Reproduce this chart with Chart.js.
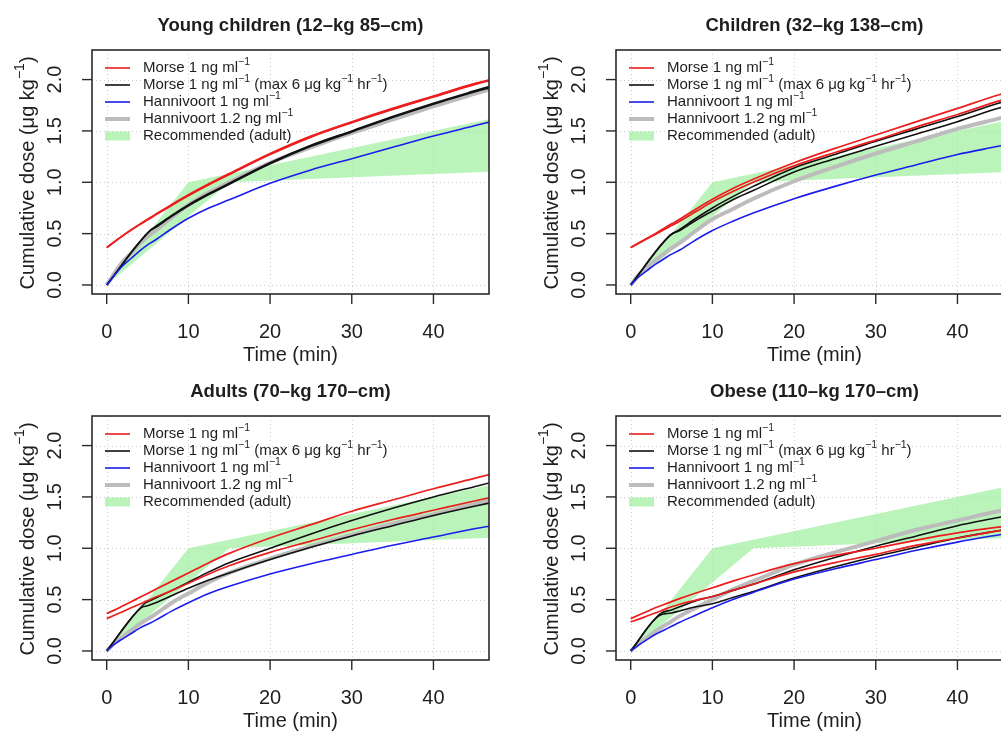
<!DOCTYPE html>
<html>
<head>
<meta charset="utf-8">
<script src="https://cdn.jsdelivr.net/npm/chart.js@4.4.1/dist/chart.umd.min.js"></script>
<style>
  html, body { margin: 0; padding: 0; background: #fff; overflow: hidden; }
  #wrap { position: relative; width: 1001px; height: 731px; overflow: hidden; }
  #wrap canvas { position: absolute; }
</style>
</head>
<body>
<div id="wrap">
  <canvas id="young" width="524" height="366" style="left:0;top:0"></canvas>
  <canvas id="child" width="524" height="366" style="left:524px;top:0"></canvas>
  <canvas id="adult" width="524" height="366" style="left:0;top:366px"></canvas>
  <canvas id="obese" width="524" height="366" style="left:524px;top:366px"></canvas>
</div>
<script>
// shared axes
const timeGrid = [0, 1, 2, 3, 4, 5, 6, 8, 10, 12.5, 15, 20, 25, 30, 35, 40, 45, 48];
const xTicks = [0, 10, 20, 30, 40];
const yTicks = [0, 0.5, 1, 1.5, 2];
const yTickLabels = ['0.0', '0.5', '1.0', '1.5', '2.0'];

// recommended adult dosing band
const bandTime = [0, 10, 15, 48];
const bandUpper = [0, 1.0, 1.083, 1.633];
const bandLower = [0, 0.667, 1.0, 1.106];

// Young children (12 kg 85 cm)
const youngMorseA = [0.364, 0.425, 0.483, 0.538, 0.59, 0.64, 0.69, 0.785, 0.878, 0.985, 1.085, 1.28, 1.45, 1.59, 1.72, 1.84, 1.96, 2.02];
const youngMorseB = [0.364, 0.423, 0.48, 0.534, 0.585, 0.634, 0.683, 0.777, 0.868, 0.975, 1.075, 1.27, 1.44, 1.58, 1.71, 1.83, 1.95, 2.01];
const youngCappedTimeA = [0, 5.3, 6, 8, 10, 12.5, 15, 20, 25, 30, 35, 40, 45, 48];
const youngCappedA = [0, 0.53, 0.57, 0.68, 0.78, 0.89, 0.99, 1.19, 1.36, 1.50, 1.64, 1.77, 1.89, 1.96];
const youngCappedTimeB = [0, 5.2, 6, 8, 10, 12.5, 15, 20, 25, 30, 35, 40, 45, 48];
const youngCappedB = [0, 0.52, 0.56, 0.67, 0.77, 0.88, 0.98, 1.18, 1.35, 1.49, 1.63, 1.76, 1.88, 1.94];
const youngHann1 = [0, 0.10, 0.19, 0.26, 0.33, 0.39, 0.44, 0.55, 0.65, 0.75, 0.83, 0.99, 1.12, 1.23, 1.34, 1.45, 1.55, 1.61];
const youngHann12 = [0, 0.12, 0.23, 0.31, 0.40, 0.47, 0.53, 0.66, 0.78, 0.90, 1.00, 1.19, 1.34, 1.48, 1.61, 1.74, 1.86, 1.93];

// Children (32 kg 138 cm)
const childMorseA = [0.364, 0.41, 0.455, 0.50, 0.548, 0.595, 0.64, 0.74, 0.835, 0.94, 1.03, 1.19, 1.33, 1.46, 1.59, 1.72, 1.85, 1.92];
const childMorseB = [0.364, 0.407, 0.45, 0.492, 0.535, 0.578, 0.62, 0.715, 0.81, 0.91, 1.00, 1.16, 1.29, 1.41, 1.54, 1.66, 1.79, 1.86];
const childCappedTimeA = [0, 4.8, 6, 8, 10, 12.5, 15, 20, 25, 30, 35, 40, 45, 48];
const childCappedA = [0, 0.48, 0.54, 0.65, 0.75, 0.86, 0.96, 1.14, 1.27, 1.40, 1.52, 1.64, 1.77, 1.84];
const childCappedTimeB = [0, 4.9, 6, 8, 10, 12.5, 15, 20, 25, 30, 35, 40, 45, 48];
const childCappedB = [0, 0.49, 0.53, 0.63, 0.72, 0.83, 0.92, 1.10, 1.23, 1.35, 1.47, 1.59, 1.72, 1.78];
const childHann1 = [0, 0.08, 0.14, 0.20, 0.25, 0.30, 0.34, 0.44, 0.53, 0.62, 0.70, 0.84, 0.96, 1.07, 1.17, 1.27, 1.35, 1.40];
const childHann12 = [0, 0.10, 0.17, 0.24, 0.30, 0.36, 0.41, 0.53, 0.64, 0.74, 0.84, 1.01, 1.15, 1.28, 1.40, 1.52, 1.62, 1.68];

// Adults (70 kg 170 cm)
const adultMorseA = [0.364, 0.40, 0.44, 0.48, 0.52, 0.56, 0.60, 0.68, 0.76, 0.86, 0.95, 1.10, 1.23, 1.36, 1.47, 1.58, 1.68, 1.74];
const adultMorseB = [0.315, 0.35, 0.385, 0.42, 0.455, 0.49, 0.525, 0.59, 0.66, 0.75, 0.83, 0.96, 1.07, 1.18, 1.28, 1.37, 1.46, 1.51];
const adultCappedTimeA = [0, 4.6, 5, 6, 8, 10, 12.5, 15, 20, 25, 30, 35, 40, 45, 48];
const adultCappedA = [0, 0.46, 0.48, 0.515, 0.59, 0.67, 0.77, 0.86, 1.00, 1.14, 1.27, 1.39, 1.50, 1.60, 1.66];
const adultCappedTimeB = [0, 4.2, 5, 6, 8, 10, 12.5, 15, 20, 25, 30, 35, 40, 45, 48];
const adultCappedB = [0, 0.42, 0.44, 0.47, 0.54, 0.61, 0.69, 0.76, 0.89, 1.01, 1.12, 1.22, 1.32, 1.41, 1.46];
const adultHann1 = [0, 0.07, 0.12, 0.17, 0.22, 0.26, 0.30, 0.39, 0.47, 0.56, 0.63, 0.75, 0.85, 0.94, 1.03, 1.11, 1.19, 1.23];
const adultHann12 = [0, 0.08, 0.14, 0.20, 0.26, 0.31, 0.36, 0.47, 0.56, 0.67, 0.76, 0.90, 1.02, 1.13, 1.24, 1.33, 1.43, 1.48];

// Obese (110 kg 170 cm)
const obeseMorseA = [0.315, 0.35, 0.385, 0.42, 0.45, 0.48, 0.51, 0.565, 0.615, 0.68, 0.74, 0.85, 0.93, 1.00, 1.08, 1.15, 1.205, 1.23];
const obeseMorseB = [0.283, 0.31, 0.34, 0.37, 0.40, 0.43, 0.455, 0.495, 0.53, 0.59, 0.65, 0.77, 0.86, 0.94, 1.03, 1.10, 1.17, 1.20];
const obeseCappedTimeA = [0, 3.6, 5, 6, 8, 10, 12.5, 15, 20, 25, 30, 35, 40, 45, 48];
const obeseCappedA = [0, 0.36, 0.40, 0.43, 0.49, 0.53, 0.59, 0.65, 0.79, 0.91, 1.02, 1.12, 1.22, 1.30, 1.35];
const obeseCappedTimeB = [0, 3.4, 5, 6, 8, 10, 12.5, 15, 20, 25, 30, 35, 40, 45, 48];
const obeseCappedB = [0, 0.34, 0.37, 0.39, 0.43, 0.46, 0.52, 0.58, 0.71, 0.82, 0.92, 1.01, 1.10, 1.17, 1.21];
const obeseHann1 = [0, 0.06, 0.11, 0.16, 0.20, 0.24, 0.28, 0.35, 0.42, 0.50, 0.57, 0.70, 0.80, 0.89, 0.98, 1.06, 1.13, 1.17];
const obeseHann12 = [0, 0.07, 0.13, 0.19, 0.24, 0.29, 0.34, 0.42, 0.50, 0.60, 0.68, 0.84, 0.96, 1.07, 1.18, 1.27, 1.36, 1.40];

const legendLabels = [
    'Morse 1 ng ml^{−1}',
    'Morse 1 ng ml^{−1} (max 6 μg kg^{−1} hr^{−1})',
    'Hannivoort 1 ng ml^{−1}',
    'Hannivoort 1.2 ng ml^{−1}',
    'Recommended (adult)'
];
const xLabel = 'Time (min)';
const yLabel = 'Cumulative dose (μg kg^{−1})';

const RED = '#ec1d1d';
const BLACK = '#111111';
const BLUE = '#1c1ced';
const GRAY = '#bcbcbc';
const GREEN = 'rgba(144, 238, 144, 0.62)';
const INK = '#1e1e1e';
const FONT = '"Liberation Sans", Arial, Helvetica, sans-serif';

const legendStyle = [
    { color: RED, width: 1.6 },
    { color: BLACK, width: 1.6 },
    { color: BLUE, width: 1.6 },
    { color: GRAY, width: 4 },
    { color: GREEN, width: 9 }
];

function pts(xs, ys) {
    return xs.map((x, i) => ({ x: x, y: ys[i] }));
}

// text with ^{...} superscripts
function richParts(str) {
    const bits = str.split(/\^\{(.*?)\}/);
    return bits.map((t, i) => ({ t: t, sup: i % 2 === 1 })).filter(p => p.t.length);
}

function richWidth(ctx, parts, size) {
    let w = 0;
    parts.forEach(p => {
        ctx.font = (p.sup ? size * 0.7 : size) + 'px ' + FONT;
        w += ctx.measureText(p.t).width;
    });
    return w;
}

function drawRich(ctx, str, x, y, size, align) {
    const parts = richParts(str);
    let cx = x;
    if (align === 'center') cx = x - richWidth(ctx, parts, size) / 2;
    ctx.textBaseline = 'middle';
    ctx.textAlign = 'left';
    parts.forEach(p => {
        const s = p.sup ? size * 0.7 : size;
        ctx.font = s + 'px ' + FONT;
        ctx.fillText(p.t, cx, p.sup ? y - size * 0.38 : y);
        cx += ctx.measureText(p.t).width;
    });
}

const decor = {
    id: 'decor',
    beforeDraw(chart) {
        const { ctx, chartArea: a } = chart;
        const x = chart.scales.x, y = chart.scales.y;
        ctx.save();
        ctx.strokeStyle = '#cdcdcd';
        ctx.lineWidth = 1;
        ctx.setLineDash([1, 3]);
        xTicks.forEach(v => {
            const px = Math.round(x.getPixelForValue(v)) + 0.5;
            ctx.beginPath(); ctx.moveTo(px, a.top); ctx.lineTo(px, a.bottom); ctx.stroke();
        });
        yTicks.forEach(v => {
            const py = Math.round(y.getPixelForValue(v)) + 0.5;
            ctx.beginPath(); ctx.moveTo(a.left, py); ctx.lineTo(a.right, py); ctx.stroke();
        });
        ctx.restore();
    },
    afterDraw(chart, args, opts) {
        const { ctx, chartArea: a } = chart;
        const x = chart.scales.x, y = chart.scales.y;
        ctx.save();
        ctx.strokeStyle = '#2a2a2a';
        ctx.lineWidth = 1.6;
        ctx.strokeRect(a.left, a.top, a.right - a.left, a.bottom - a.top);

        // ticks
        ctx.lineWidth = 1.4;
        ctx.fillStyle = INK;
        ctx.font = '20px ' + FONT;
        ctx.textAlign = 'center';
        ctx.textBaseline = 'middle';
        xTicks.forEach(v => {
            const px = x.getPixelForValue(v);
            ctx.beginPath(); ctx.moveTo(px, a.bottom); ctx.lineTo(px, a.bottom + 10); ctx.stroke();
            ctx.fillText(String(v), px, a.bottom + 38);
        });
        yTicks.forEach((v, i) => {
            const py = y.getPixelForValue(v);
            ctx.beginPath(); ctx.moveTo(a.left - 10, py); ctx.lineTo(a.left, py); ctx.stroke();
            ctx.save();
            ctx.translate(a.left - 37, py);
            ctx.rotate(-Math.PI / 2);
            ctx.fillText(yTickLabels[i], 0, 0);
            ctx.restore();
        });

        // axis titles
        const midX = (a.left + a.right) / 2;
        const midY = (a.top + a.bottom) / 2;
        drawRich(ctx, xLabel, midX, a.bottom + 61, 20, 'center');
        ctx.save();
        ctx.translate(28, midY + 1);
        ctx.rotate(-Math.PI / 2);
        drawRich(ctx, yLabel, 0, 0, 20, 'center');
        ctx.restore();

        // panel title
        ctx.font = 'bold 18.5px ' + FONT;
        ctx.textAlign = 'center';
        ctx.fillText(opts.title, midX, 26);

        // legend
        legendLabels.forEach((lab, i) => {
            const ly = a.top + 18 + i * 17;
            const st = legendStyle[i];
            ctx.strokeStyle = st.color;
            ctx.lineWidth = st.width;
            ctx.beginPath(); ctx.moveTo(a.left + 13, ly); ctx.lineTo(a.left + 38, ly); ctx.stroke();
            ctx.fillStyle = INK;
            drawRich(ctx, lab, a.left + 51, ly, 15, 'left');
        });
        ctx.restore();
    }
};

function buildPanel(id, title, s) {
    const line = { pointRadius: 0, fill: false, cubicInterpolationMode: 'monotone' };
    new Chart(document.getElementById(id), {
        type: 'line',
        data: {
            datasets: [
                Object.assign({ label: 'Morse A', data: pts(timeGrid, s.morseA), borderColor: RED, borderWidth: 1.7, order: 1 }, line),
                Object.assign({ label: 'Morse B', data: pts(timeGrid, s.morseB), borderColor: RED, borderWidth: 1.7, order: 1 }, line),
                Object.assign({ label: 'Morse capped A', data: pts(s.cappedTimeA, s.cappedA), borderColor: BLACK, borderWidth: 1.6, order: 2 }, line),
                Object.assign({ label: 'Morse capped B', data: pts(s.cappedTimeB, s.cappedB), borderColor: BLACK, borderWidth: 1.6, order: 2 }, line),
                Object.assign({ label: 'Hannivoort 1', data: pts(timeGrid, s.hann1), borderColor: BLUE, borderWidth: 1.6, order: 0 }, line),
                Object.assign({ label: 'Hannivoort 1.2', data: pts(timeGrid, s.hann12), borderColor: GRAY, borderWidth: 4, order: 4 }, line),
                { label: 'Recommended upper', data: pts(bandTime, bandUpper), borderWidth: 0, pointRadius: 0, tension: 0, fill: '+1', backgroundColor: GREEN, order: 5 },
                { label: 'Recommended lower', data: pts(bandTime, bandLower), borderWidth: 0, pointRadius: 0, tension: 0, fill: false, order: 6 }
            ]
        },
        options: {
            responsive: false,
            animation: false,
            events: [],
            devicePixelRatio: 1,
            layout: { padding: { left: 92, top: 50, right: 35, bottom: 72 } },
            scales: {
                x: { type: 'linear', min: -1.8, max: 46.8, display: false },
                y: { type: 'linear', min: -0.088, max: 2.288, display: false }
            },
            plugins: {
                legend: { display: false },
                tooltip: { enabled: false },
                filler: { drawTime: 'beforeDatasetsDraw' },
                decor: { title: title }
            }
        },
        plugins: [decor]
    });
}

buildPanel('young', 'Young children (12–kg 85–cm)', {
    morseA: youngMorseA, morseB: youngMorseB,
    cappedTimeA: youngCappedTimeA, cappedA: youngCappedA,
    cappedTimeB: youngCappedTimeB, cappedB: youngCappedB,
    hann1: youngHann1, hann12: youngHann12
});
buildPanel('child', 'Children (32–kg 138–cm)', {
    morseA: childMorseA, morseB: childMorseB,
    cappedTimeA: childCappedTimeA, cappedA: childCappedA,
    cappedTimeB: childCappedTimeB, cappedB: childCappedB,
    hann1: childHann1, hann12: childHann12
});
buildPanel('adult', 'Adults (70–kg 170–cm)', {
    morseA: adultMorseA, morseB: adultMorseB,
    cappedTimeA: adultCappedTimeA, cappedA: adultCappedA,
    cappedTimeB: adultCappedTimeB, cappedB: adultCappedB,
    hann1: adultHann1, hann12: adultHann12
});
buildPanel('obese', 'Obese (110–kg 170–cm)', {
    morseA: obeseMorseA, morseB: obeseMorseB,
    cappedTimeA: obeseCappedTimeA, cappedA: obeseCappedA,
    cappedTimeB: obeseCappedTimeB, cappedB: obeseCappedB,
    hann1: obeseHann1, hann12: obeseHann12
});
</script>
</body>
</html>
